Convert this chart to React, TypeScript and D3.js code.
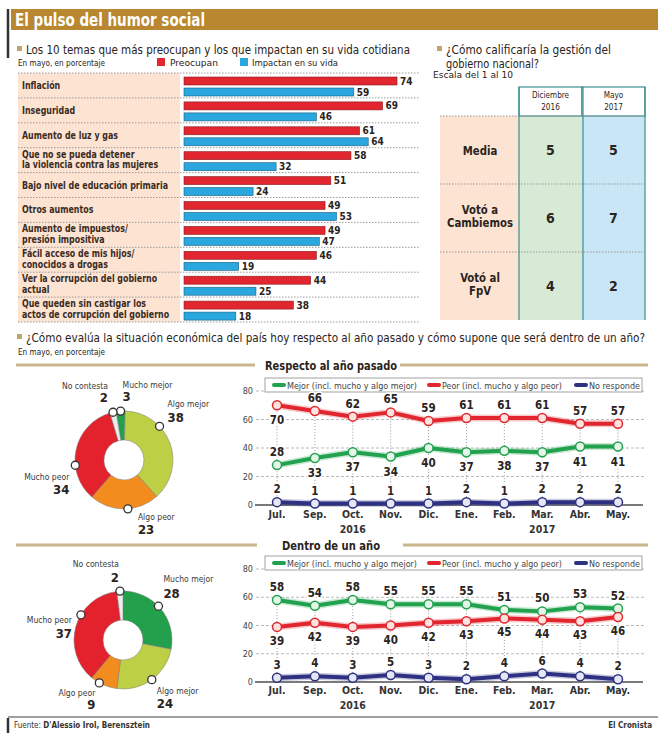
import React from 'react';
import * as d3 from 'd3';

const FONT = "'Liberation Sans Narrow','Arial Narrow','DejaVu Sans Condensed',sans-serif";

// ---------- DATA ----------
const temas = [
  "Inflación",
  "Inseguridad",
  "Aumento de luz y gas",
  "Que no se pueda detener\nla violencia contra las mujeres",
  "Bajo nivel de educación primaria",
  "Otros aumentos",
  "Aumento de impuestos/\npresión impositiva",
  "Fácil acceso de mis hijos/\nconocidos a drogas",
  "Ver la corrupción del gobierno\nactual",
  "Que queden sin castigar los\nactos de corrupción del gobierno",
];
const preocupan = [74, 69, 61, 58, 51, 49, 49, 46, 44, 38];
const impactan = [59, 46, 64, 32, 24, 53, 47, 19, 25, 18];

const tablaFilas = ["Media", "Votó a\nCambiemos", "Votó al\nFpV"];
const tablaColumnas = ["Diciembre\n2016", "Mayo\n2017"];
const diciembre2016 = [5, 6, 4];
const mayo2017 = [5, 7, 2];

const meses = ["Jul.", "Sep.", "Oct.", "Nov.", "Dic.", "Ene.", "Feb.", "Mar.", "Abr.", "May."];
const anios = [{ label: "2016", mes: "Oct." }, { label: "2017", mes: "Mar." }];
const yTicks = [0, 20, 40, 60, 80];

const pasadoMejor = [28, 33, 37, 34, 40, 37, 38, 37, 41, 41];
const pasadoPeor = [70, 66, 62, 65, 59, 61, 61, 61, 57, 57];
const pasadoNoResp = [2, 1, 1, 1, 1, 2, 1, 2, 2, 2];

const futuroMejor = [58, 54, 58, 55, 55, 55, 51, 50, 53, 52];
const futuroPeor = [39, 42, 39, 40, 42, 43, 45, 44, 43, 46];
const futuroNoResp = [3, 4, 3, 5, 3, 2, 4, 6, 4, 2];

const donutCategorias = ["Mucho mejor", "Algo mejor", "Algo peor", "Mucho peor", "No contesta"];
const pasadoDonut = [3, 38, 23, 34, 2];
const futuroDonut = [28, 24, 9, 37, 2];

// ---------- STYLE ----------
const RED = '#e1262f';
const BLUE = '#29a7de';
const GREEN = '#22a24e';
const NAVY = '#2e3182';
const DARK = '#2a2320';
const PEACH = '#fce3d2';
const TAN = '#c9b68c';
const TEAL = '#3e8e8c';
const donutColors = ['#22a04b', '#bccf45', '#f28c1f', '#e4222d', '#ececec'];
const FIT = { lengthAdjust: 'spacingAndGlyphs' } as any;

function MText({ x, y, text, lh, ...rest }: any) {
  const lines = String(text).split('\n');
  return (
    <text x={x} y={y} {...rest}>
      {lines.map((l, i) => (
        <tspan key={i} x={x} dy={i === 0 ? 0 : lh}>{l}</tspan>
      ))}
    </text>
  );
}

// horizontally condensed text (mimics the narrow newspaper face)
function NText({ x, y, sx = 0.88, text, lh = 10, ...rest }: any) {
  return (
    <g transform={`translate(${x},${y}) scale(${sx},1)`}>
      <MText x={0} y={0} text={text} lh={lh} {...rest} />
    </g>
  );
}

function Heading({ x, y, lines, widths, size = 13, lh = 14 }: any) {
  return (
    <g>
      <rect x={x} y={y - 8} width={5} height={5} fill="#c2a36b" />
      {lines.map((l: string, i: number) => (
        <text key={i} x={x + 9} y={y + i * lh} fontSize={size} fill={DARK} textLength={widths[i]} {...FIT}>{l}</text>
      ))}
    </g>
  );
}

function BarChart() {
  const y = d3.scaleBand<string>().domain(temas).range([73, 322]);
  const x = d3.scaleLinear().domain([0, 74]).range([184, 397]);
  const bw = y.bandwidth();
  return (
    <g>
      <rect x={18} y={73} width={162} height={249} fill={PEACH} />
      {d3.range(temas.length + 1).map((i) => (
        <line key={i} x1={18} x2={420} y1={73 + i * bw} y2={73 + i * bw} stroke="#9a9a9a" strokeDasharray="1.5,1.5" strokeWidth={1} />
      ))}
      {temas.map((t, i) => {
        const top = y(t)!;
        const lines = t.split('\n');
        const ty = lines.length === 1 ? top + bw / 2 + 3.5 : top + 10;
        return (
          <g key={t}>
            <NText x={22} y={ty} sx={0.88} text={t} lh={10.5} fontSize={10} fontWeight="bold" fill="#3b2b22" />
            <rect x={x(0)} y={top + 4} width={x(preocupan[i]) - x(0)} height={8} fill={RED} stroke="#8a1a1f" strokeWidth={0.6} />
            <rect x={x(0)} y={top + 15} width={x(impactan[i]) - x(0)} height={8} fill={BLUE} stroke="#1b5f80" strokeWidth={0.6} />
            <text x={x(preocupan[i]) + 3} y={top + 11.5} fontSize={10} fontWeight="bold" fill={DARK}>{preocupan[i]}</text>
            <text x={x(impactan[i]) + 3} y={top + 22.5} fontSize={10} fontWeight="bold" fill={DARK}>{impactan[i]}</text>
          </g>
        );
      })}
    </g>
  );
}

function Tabla() {
  const rows = d3.scaleBand<string>().domain(tablaFilas).range([116, 320]);
  const cols = d3.scaleBand<string>().domain(tablaColumnas).range([519, 645]);
  const rh = rows.bandwidth();
  const cw = cols.bandwidth();
  const valores = [diciembre2016, mayo2017];
  const fills = ['#d6ead6', '#c8e6f5'];
  return (
    <g>
      <rect x={440} y={116} width={79} height={204} fill={PEACH} />
      {tablaColumnas.map((c, j) => (
        <g key={c}>
          <rect x={cols(c)!} y={116} width={cw} height={204} fill={fills[j]} />
          <rect x={cols(c)!} y={87} width={cw} height={29} fill="#fff" stroke={TEAL} strokeWidth={1.2} />
          <NText x={cols(c)! + cw / 2} y={98} sx={0.9} text={c} lh={12.5} fontSize={9} textAnchor="middle" fill={DARK} />
        </g>
      ))}
      {tablaFilas.map((r) => (
        <line key={r} x1={440} x2={645} y1={rows(r)!} y2={rows(r)!} stroke="#9a9a9a" strokeDasharray="1.5,1.5" />
      ))}
      {[519, 583, 645].map((xv) => (
        <line key={xv} x1={xv} x2={xv} y1={87} y2={320} stroke={TEAL} strokeWidth={1.2} />
      ))}
      {tablaFilas.map((r, i) => {
        const cy = rows(r)! + rh / 2;
        const lines = r.split('\n');
        return (
          <g key={r}>
            <NText x={480} y={lines.length === 1 ? cy + 4.5 : cy - 4} sx={0.9} text={r} lh={13.5} fontSize={12.5} fontWeight="bold" textAnchor="middle" fill={DARK} />
            {tablaColumnas.map((c, j) => (
              <text key={c} x={cols(c)! + cw / 2} y={cy + 5} fontSize={14} fontWeight="bold" textAnchor="middle" fill={DARK}>{valores[j][i]}</text>
            ))}
          </g>
        );
      })}
    </g>
  );
}

type DonutLayout = { frac: number; dx: number; ny: number; vy: number; anchor: string };

function Donut({ cx, cy, values, start, layout }: { cx: number; cy: number; values: number[]; start: number; layout: DonutLayout[] }) {
  const rOut = 49;
  const rIn = 20;
  const pie = d3.pie<number>().sort(null).startAngle(start).endAngle(start + Math.PI * 2);
  const arcs = pie(values);
  const arc = d3.arc<d3.PieArcDatum<number>>().innerRadius(rIn).outerRadius(rOut);
  return (
    <g transform={`translate(${cx},${cy})`}>
      {arcs.map((a, i) => (
        <path key={i} d={arc(a)!} fill={donutColors[i]} stroke="#7a7a7a" strokeWidth={0.5} />
      ))}
      {arcs.map((a, i) => {
        const L = layout[i];
        const ang = a.startAngle + L.frac * (a.endAngle - a.startAngle);
        const px = rOut * Math.sin(ang);
        const py = -rOut * Math.cos(ang);
        return (
          <g key={'l' + i}>
            <circle cx={px} cy={py} r={4} fill="#fff" stroke="#333" strokeWidth={1.3} />
            <NText x={px + L.dx} y={py + L.ny} sx={0.9} text={donutCategorias[i]} fontSize={9.5} fill="#3a3a3a" textAnchor={L.anchor} />
            <text x={px + L.dx} y={py + L.vy} fontSize={13} fontWeight="bold" fill={DARK} textAnchor={L.anchor}>{values[i]}</text>
          </g>
        );
      })}
    </g>
  );
}

function LineChart({ mejor, peor, noResp, y0, y80, topIsPeor, swap, aboveOff, belowOff, nrOff, legendY, monthY }: any) {
  const x = d3.scalePoint<string>().domain(meses).range([277, 618]);
  const y = d3.scaleLinear().domain([0, 80]).range([y0, y80]);
  const line = d3.line<number>().x((_, i) => x(meses[i])!).y((v) => y(v));
  const series = [
    { vals: mejor, color: GREEN, fill: '#e6f5ea', name: 'Mejor (incl. mucho y algo mejor)', w: 130 },
    { vals: peor, color: RED, fill: '#fde3df', name: 'Peor (incl. mucho y algo peor)', w: 120 },
    { vals: noResp, color: NAVY, fill: '#e6e7f3', name: 'No responde', w: 51 },
  ];
  const topVals = topIsPeor ? peor : mejor;
  const legendX = 265;
  const legendOffsets = [0, 155, 302];
  const halo = { stroke: '#fff', strokeWidth: 3, paintOrder: 'stroke' } as any;
  return (
    <g>
      {yTicks.filter((t) => t > 0).map((t) => (
        <line key={t} x1={256} x2={645} y1={y(t)} y2={y(t)} stroke="#a8a8a8" strokeDasharray="3,2" strokeWidth={0.8} />
      ))}
      {yTicks.map((t) => (
        <text key={'t' + t} x={253} y={y(t) + 3} fontSize={9} textAnchor="end" fill="#444">{t}</text>
      ))}
      {meses.map((m, i) => (
        <line key={'v' + m} x1={x(m)!} x2={x(m)!} y1={y(topVals[i])} y2={y0} stroke="#9a9a9a" strokeDasharray="1,2" strokeWidth={1} />
      ))}
      <line x1={255} x2={643} y1={y0} y2={y0} stroke="#7a7a7a" strokeWidth={2} />
      <rect x={legendX} y={legendY} width={642 - legendX} height={14} fill="#fff" stroke="#8a8a8a" strokeWidth={0.8} />
      {series.map((s, k) => (
        <g key={s.name}>
          <line x1={legendX + 9 + legendOffsets[k]} x2={legendX + 19 + legendOffsets[k]} y1={legendY + 7} y2={legendY + 7} stroke={s.color} strokeWidth={4} strokeLinecap="round" />
          <text x={legendX + 22 + legendOffsets[k]} y={legendY + 10.5} fontSize={9.5} fill="#444" textLength={s.w} {...FIT}>{s.name}</text>
        </g>
      ))}
      {series.map((s) => (
        <g key={'s' + s.name}>
          <path d={line(s.vals)!} fill="none" stroke={s.color} strokeOpacity={0.25} strokeWidth={7} strokeLinejoin="round" />
          <path d={line(s.vals)!} fill="none" stroke={s.color} strokeWidth={4} strokeLinejoin="round" />
          {s.vals.map((v: number, i: number) => (
            <circle key={i} cx={x(meses[i])!} cy={y(v)} r={4.5} fill={s.fill} stroke={s.color} strokeWidth={1.5} />
          ))}
        </g>
      ))}
      {meses.map((m, i) => {
        const sw = swap.includes(i);
        const topV = topVals[i];
        const botV = topIsPeor ? mejor[i] : peor[i];
        const topAbove = !sw;
        return (
          <g key={'lab' + m} fontSize={11.5} fontWeight="bold" fill={DARK} textAnchor="middle">
            <text x={x(m)!} y={y(topV) + (topAbove ? aboveOff : belowOff)} {...halo}>{topV}</text>
            <text x={x(m)!} y={y(botV) + (topAbove ? belowOff : aboveOff)} {...halo}>{botV}</text>
            <text x={x(m)!} y={y(noResp[i]) + nrOff} {...halo}>{noResp[i]}</text>
          </g>
        );
      })}
      {meses.map((m) => (
        <text key={'m' + m} x={x(m)!} y={monthY} fontSize={10.5} fontWeight="bold" fill="#333" textAnchor="middle">{m}</text>
      ))}
      {anios.map((a) => (
        <text key={a.label} x={x(a.mes)!} y={monthY + 15} fontSize={10.5} fontWeight="bold" fill="#333" textAnchor="middle">{a.label}</text>
      ))}
    </g>
  );
}

function Rule({ y, gapL, gapR, title, titleX, titleW }: any) {
  return (
    <g>
      <line x1={16} x2={gapL} y1={y} y2={y} stroke={TAN} strokeWidth={3} />
      <line x1={gapR} x2={648} y1={y} y2={y} stroke={TAN} strokeWidth={3} />
      <text x={titleX} y={y + 5} fontSize={13} fontWeight="bold" fill={DARK} textLength={titleW} {...FIT}>{title}</text>
    </g>
  );
}

const donut1Layout: DonutLayout[] = [
  { frac: 0.5, dx: 2, ny: -23, vy: -10, anchor: 'start' },
  { frac: 0.33, dx: 8, ny: -19, vy: -4, anchor: 'start' },
  { frac: 0.45, dx: 10, ny: 11, vy: 25, anchor: 'start' },
  { frac: 0.35, dx: -6, ny: 15, vy: 29, anchor: 'end' },
  { frac: 0.5, dx: -5, ny: -23, vy: -10, anchor: 'end' },
];
const donut2Layout: DonutLayout[] = [
  { frac: 0.46, dx: 5, ny: -24, vy: -8, anchor: 'start' },
  { frac: 0.5, dx: 5, ny: 14, vy: 28, anchor: 'start' },
  { frac: 0.67, dx: -4, ny: 13, vy: 26, anchor: 'end' },
  { frac: 0.61, dx: -9, ny: 8, vy: 23, anchor: 'end' },
  { frac: 0.5, dx: -1, ny: -24, vy: -9, anchor: 'end' },
];

export default function App() {
  return (
    <svg width={658} height={733} style={{ position: 'absolute', left: 0, top: 0, background: '#fff' }} fontFamily={FONT}>
      <rect x={0} y={0} width={658} height={733} fill="#fff" />
      {/* title bar */}
      <line x1={8} x2={8} y1={9} y2={58} stroke="#333" strokeWidth={2.5} />
      <rect x={11} y={9} width={647} height={21} fill="#b8872f" />
      <text x={15} y={26} fontSize={17.5} fontWeight="bold" fill="#fff" textLength={190} {...FIT}>El pulso del humor social</text>

      {/* section 1 */}
      <Heading x={17} y={54} widths={[384]} lines={["Los 10 temas que más preocupan y los que impactan en su vida cotidiana"]} />
      <text x={18} y={66} fontSize={9} fill={DARK} textLength={87} {...FIT}>En mayo, en porcentaje</text>
      <rect x={157} y={58} width={8} height={8} fill={RED} />
      <text x={170} y={66} fontSize={9.5} fill={DARK} textLength={48} {...FIT}>Preocupan</text>
      <rect x={240} y={58} width={8} height={8} fill={BLUE} />
      <text x={252} y={66} fontSize={9.5} fill={DARK} textLength={86} {...FIT}>Impactan en su vida</text>
      <BarChart />

      <Heading x={437} y={54} widths={[165, 93]} lh={14} lines={["¿Cómo calificaría la gestión del", "gobierno nacional?"]} />
      <text x={433} y={78} fontSize={9} fill={DARK} textLength={80} {...FIT}>Escala del 1 al 10</text>
      <Tabla />

      {/* section 2 */}
      <Heading x={17} y={342} size={11.6} widths={[619]} lines={["¿Cómo evalúa la situación económica del país hoy respecto al año pasado y cómo supone que será dentro de un año?"]} />
      <text x={18} y={355} fontSize={9} fill={DARK} textLength={87} {...FIT}>En mayo, en porcentaje</text>

      <Rule y={365} gapL={255} gapR={400} title="Respecto al año pasado" titleX={265} titleW={132} />
      <Donut cx={124} cy={460} values={pasadoDonut} start={-0.164} layout={donut1Layout} />
      <LineChart mejor={pasadoMejor} peor={pasadoPeor} noResp={pasadoNoResp} y0={505} y80={391}
        topIsPeor={true} swap={[0]} aboveOff={-9} belowOff={19} nrOff={-9} legendY={378} monthY={518} />

      <Rule y={545} gapL={257} gapR={403} title="Dentro de un año" titleX={282} titleW={98} />
      <Donut cx={123} cy={640} values={futuroDonut} start={0} layout={donut2Layout} />
      <LineChart mejor={futuroMejor} peor={futuroPeor} noResp={futuroNoResp} y0={682} y80={569}
        topIsPeor={false} swap={[]} aboveOff={-9} belowOff={18} nrOff={-9} legendY={556} monthY={694} />

      {/* footer */}
      <line x1={8} x2={658} y1={717} y2={717} stroke="#a0a0a0" strokeWidth={2} />
      <line x1={8} x2={8} y1={718} y2={733} stroke="#333" strokeWidth={2.5} />
      <text x={14} y={728} fontSize={8} fill="#333">Fuente: <tspan fontWeight="bold">D'Alessio Irol, Berensztein</tspan></text>
      <text x={652} y={728} fontSize={8} fontWeight="bold" fill="#333" textAnchor="end">El Cronista</text>
    </svg>
  );
}
